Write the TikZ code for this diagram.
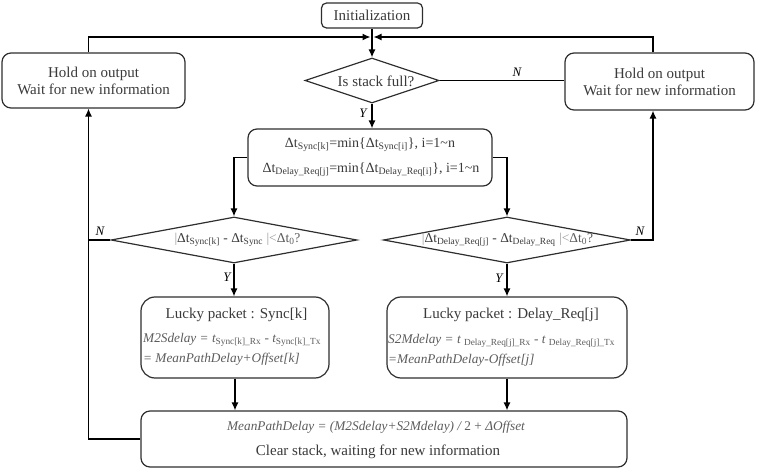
\documentclass[tikz,border=0pt]{standalone}
\usepackage{fontspec}
\setmainfont{Liberation Serif}
\usetikzlibrary{arrows.meta,shapes.geometric,calc}
\newcommand\sbs[1]{\textsubscript{#1}}
\definecolor{ftxt}{HTML}{5C5C5C}
\definecolor{ltxt}{HTML}{9A9A9A}
\definecolor{dtxt}{HTML}{3A3A3A}
\definecolor{bord}{HTML}{2E2E2E}
\begin{document}
\begin{tikzpicture}[x=1pt,y=-1pt,
  box/.style={draw=bord, line width=1.2pt, rounded corners=9pt, inner sep=0pt, align=center, text=dtxt, font=\fontsize{15}{17}\selectfont},
  dia/.style={draw=bord, line width=1.2pt, diamond, inner sep=0pt},
  conn/.style={line width=1.3pt},
  arr/.style={line width=1.3pt, -{Latex[length=8pt,width=7pt]}},
  lab/.style={font=\fontsize{13}{13}\selectfont\itshape, inner sep=0pt},
  fml/.style={font=\fontsize{13.3}{16}\selectfont\itshape, text=ftxt, inner sep=0pt},
  ttl/.style={font=\fontsize{15}{17}\selectfont, text=dtxt, inner sep=0pt},
  mtxt/.style={font=\fontsize{14}{16}\selectfont, text=dtxt, inner sep=0pt},
  dtx/.style={font=\fontsize{13.5}{16}\selectfont, text=dtxt, inner sep=0pt},
  ]
\useasboundingbox (0,0) rectangle (761,470);

% nodes
\node[box, rounded corners=5pt, minimum width=101pt, minimum height=25pt] (init) at (372,15.5) {Initialization};
\coordinate (J) at (372,37);
\node[dia, minimum width=134pt, minimum height=45pt] (d1) at (372,80.5) {};
\node[dtx, font=\fontsize{15}{17}\selectfont] (d1t) at (376,81) {Is stack full?};
\node[box, minimum width=183pt, minimum height=55pt] (lh) at (93.5,80.5) {Hold on output\\Wait for new information};
\node[box, minimum width=189pt, minimum height=57pt] (rh) at (659.5,81.5) {Hold on output\\Wait for new information};

\node[box, minimum width=244pt, minimum height=57pt] (mb) at (370,157.5) {};
\node[mtxt] (mb1) at (370,145) {Δt\sbs{Sync[k]}=min\{Δt\sbs{Sync[i]}\}, i=1\textasciitilde n};
\node[mtxt] (mb2) at (371,170) {Δt\sbs{Delay\_Req[j]}=min\{Δt\sbs{Delay\_Req[i]}\}, i=1\textasciitilde n};

\node[dia, minimum width=246pt, minimum height=46pt] (ld) at (234,240) {};
\node[dtx] (ldt) at (237.5,240) {\textcolor{ltxt}{|}Δt\sbs{Sync[k]} - Δt\sbs{Sync} \textcolor{ltxt}{|<}\textcolor{ftxt}{Δt\sbs{0}?}};
\node[dia, minimum width=247pt, minimum height=46pt] (rd) at (507,240) {};
\node[dtx] (rdt) at (507.5,240) {\textcolor{ltxt}{|}Δt\sbs{Delay\_Req[j]} - Δt\sbs{Delay\_Req} \textcolor{ltxt}{|<}\textcolor{ftxt}{Δt\sbs{0}?}};

\node[box, rounded corners=14pt, minimum width=188pt, minimum height=81pt] (ll) at (235,337.5) {};
\node[ttl] (llt) at (236.5,315) {Lucky packet : Sync[k]};
\node[fml, anchor=west] (ll1) at (143,340) {M2Sdelay = t{\upshape\sbs{Sync[k]\_Rx}} - t{\upshape\sbs{Sync[k]\_Tx}}};
\node[fml, anchor=west] (ll2) at (143,359) {= MeanPathDelay+Offset[k]};

\node[box, rounded corners=14pt, minimum width=240pt, minimum height=81pt] (rl) at (507,337.5) {};
\node[ttl] (rlt) at (511,315) {Lucky packet : Delay\_Req[j]};
\node[fml, anchor=west] (rl1) at (388,341) {S2Mdelay = t {\upshape\sbs{Delay\_Req[j]\_Rx}} - t {\upshape\sbs{Delay\_Req[j]\_Tx}}};
\node[fml, anchor=west] (rl2) at (388,360) {=MeanPathDelay-Offset[j]};

\node[box, minimum width=486pt, minimum height=56pt] (bb) at (384,439) {};
\node[fml] (bb1) at (376,427) {MeanPathDelay = (M2Sdelay+S2Mdelay) / {\upshape 2 + }ΔOffset};
\node[ttl] (bb2) at (378,452) {Clear stack, waiting for new information};

\coordinate (lhn) at ([xshift=-5pt]lh.north);
\coordinate (lhs) at ([xshift=-5pt]lh.south);
\coordinate (rhn) at ([xshift=-6.5pt]rh.north);
\coordinate (rhs) at ([xshift=-6.5pt]rh.south);

% connectors
\draw[conn] (init.south) -- (J);
\draw[arr] (J) -- (d1.north);
\draw[arr, shorten >=1.5pt] (lhn) |- (J);
\draw[arr, shorten >=1.5pt] (rhn) |- (J);
\draw[conn] (d1.east) -- (d1.east -| rh.west);
\node[lab] (n1) at (517,72) {N};
\draw[arr] (d1.south) -- (d1.south |- mb.north);
\node[lab] (y1) at (363,113) {Y};
\draw[arr] (mb.west) -| (ld.north);
\draw[arr] (mb.east) -| (rd.north);
\draw[conn] (ld.west) -- (ld.west -| lhs);
\draw[arr] (bb.west) -| (lhs);
\node[lab] (n2) at (100,231) {N};
\draw[arr] (rd.east) -| (rhs);
\node[lab] (n3) at (640,231) {N};
\draw[arr] (ld.south) -- (ld.south |- ll.north);
\node[lab] (y2) at (227,277) {Y};
\draw[arr] (rd.south) -- (rd.south |- rl.north);
\node[lab] (y3) at (499,278) {Y};
\draw[arr] (ll.south) -- (ll.south |- bb.north);
\draw[arr] (rl.south) -- (rl.south |- bb.north);
\end{tikzpicture}
\end{document}
